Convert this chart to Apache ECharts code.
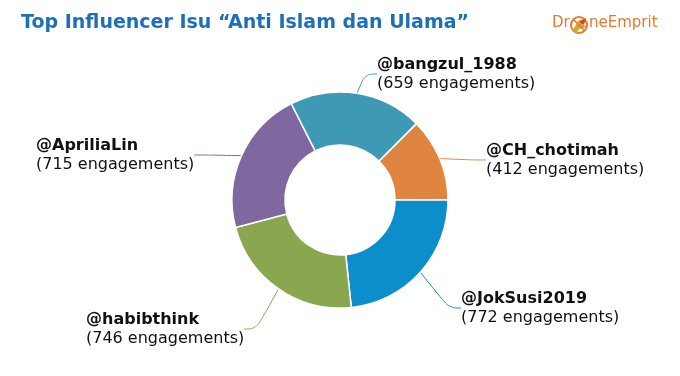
<!DOCTYPE html>
<html>
<head>
<meta charset="utf-8">
<script src="https://cdn.jsdelivr.net/npm/echarts@6/dist/echarts.min.js"></script>
<style>
  html, body { margin: 0; padding: 0; background: #fff; }
  #chart { width: 680px; height: 376px; }
</style>
</head>
<body>
<div id="chart"></div>
<script>
// data, clockwise from the orange slice
const accounts = ['@CH_chotimah', '@JokSusi2019', '@habibthink', '@ApriliaLin', '@bangzul_1988'];
const engagements = [412, 772, 746, 715, 659];
const sliceColors = ['#DF853F', '#0B8ECA', '#8AA750', '#7F68A0', '#3E9AB4'];

// where each label block sits (top-left)
const labelPos = [
  [486, 141],
  [461, 289],
  [86, 310],
  [36, 136],
  [377, 55],
];

const myChart = echarts.init(document.getElementById('chart'));

const option = {
  animation: false,
  title: {
    text: 'Top Influencer Isu “Anti Islam dan Ulama”',
    left: 16,
    top: 9,
    textStyle: {
      color: '#1E6FBA',
      fontFamily: 'DejaVu Sans',
      fontWeight: 'bold',
      fontSize: 19,
    },
  },
  graphic: {
    elements: [
      {
        type: 'text',
        left: 552,
        top: 16,
        style: { text: 'Dr', fill: '#E8792C', font: '15px "DejaVu Sans"' },
      },
      {
        type: 'circle',
        shape: { cx: 579, cy: 25, r: 8 },
        style: { fill: 'none', stroke: '#E8792C', lineWidth: 2 },
      },
      {
        type: 'polygon',
        shape: { points: [[573, 30], [578, 21], [585, 18], [582, 24], [587, 27], [579, 29], [576, 34]] },
        style: { fill: '#D9A52B' },
      },
      {
        type: 'polygon',
        shape: { points: [[579, 22], [586, 18], [584, 25]] },
        style: { fill: '#D0443A' },
      },
      {
        type: 'line',
        shape: { x1: 573.5, y1: 19.5, x2: 584.5, y2: 30.5 },
        style: { stroke: '#E8792C', lineWidth: 1.5 },
      },
      {
        type: 'text',
        left: 589,
        top: 16,
        style: { text: 'neEmprit', fill: '#E8792C', font: '15px "DejaVu Sans"' },
      },
    ],
  },
  series: [
    {
      type: 'pie',
      center: [340, 200],
      radius: [55, 108],
      startAngle: 45,
      clockwise: true,
      itemStyle: {
        borderColor: '#fff',
        borderWidth: 1.5,
      },
      label: {
        show: true,
        formatter: (p) => '{b|' + p.name + '}\n{v|(' + p.value + ' engagements)}',
        rich: {
          b: { fontFamily: 'DejaVu Sans', fontWeight: 'bold', fontSize: 16, lineHeight: 19, color: '#111' },
          v: { fontFamily: 'DejaVu Sans', fontSize: 16, lineHeight: 19, color: '#111' },
        },
      },
      labelLine: {
        show: true,
        smooth: 0.4,
        length: 12,
        length2: 12,
        lineStyle: { width: 1 },
      },
      labelLayout: (params) => {
        const pos = labelPos[params.dataIndex];
        return { x: pos[0], y: pos[1], align: 'left', verticalAlign: 'top' };
      },
      data: accounts.map((name, i) => ({
        name: name,
        value: engagements[i],
        itemStyle: { color: sliceColors[i] },
      })),
    },
  ],
};

myChart.setOption(option);
</script>
</body>
</html>
